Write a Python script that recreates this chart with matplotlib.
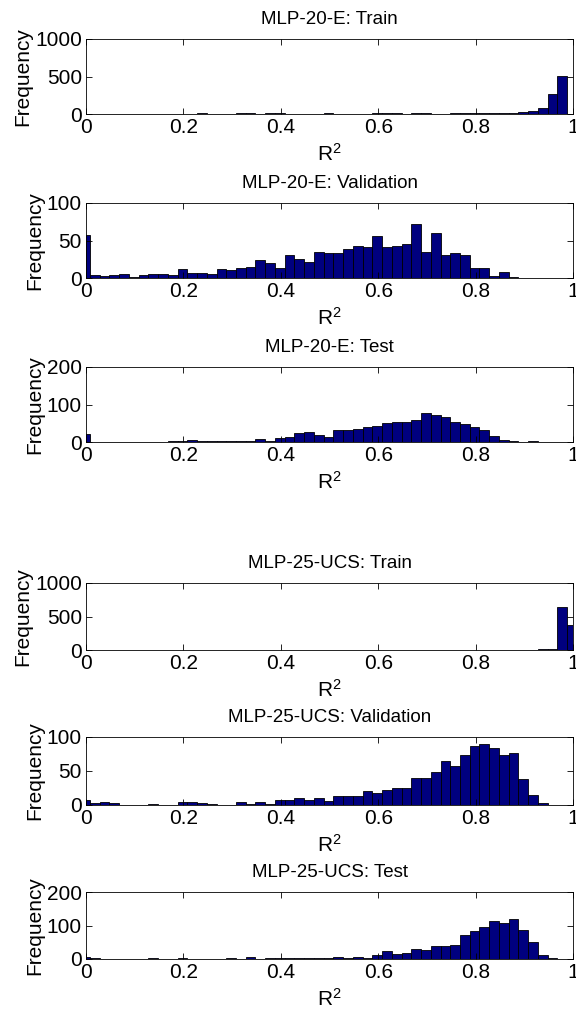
import matplotlib
matplotlib.use("Agg")
import matplotlib.pyplot as plt
import numpy as np

plt.rcParams['font.family'] = ['Liberation Sans', 'DejaVu Sans']
plt.rcParams['mathtext.fontset'] = 'custom'
plt.rcParams['mathtext.rm'] = 'Liberation Sans'
plt.rcParams['mathtext.it'] = 'Liberation Sans'

# Histogram counts: first entry = partial bin [0, BIN_START], then 50 bins of BIN_WIDTH
BIN_START = 0.008
BIN_WIDTH = 0.02

titles = ["MLP-20-E: Train", "MLP-20-E: Validation", "MLP-20-E: Test",
          "MLP-25-UCS: Train", "MLP-25-UCS: Validation", "MLP-25-UCS: Test"]

ymax_list = [1000, 100, 200, 1000, 100, 200]
yticks_list = [[0, 500, 1000], [0, 50, 100], [0, 100, 200],
               [0, 500, 1000], [0, 50, 100], [0, 100, 200]]

xticks = [0, 0.2, 0.4, 0.6, 0.8, 1.0]
xticklabels = ["0", "0.2", "0.4", "0.6", "0.8", "1"]

counts_e_train = [0,
    0, 0, 0, 0, 0, 0, 0, 0, 0, 0,
    0, 12, 0, 0, 0, 12, 12, 0, 12, 12,
    0, 0, 0, 0, 12, 0, 0, 0, 0, 12,
    12, 12, 0, 12, 12, 0, 0, 12, 12, 12,
    12, 12, 12, 20, 27, 36, 80, 270, 510, 0]
counts_e_val = [57,
    4, 3, 4, 5, 1, 4, 5, 5, 4, 12,
    7, 7, 5, 12, 11, 14, 15, 24, 20, 13,
    31, 25, 21, 35, 34, 34, 39, 43, 42, 56,
    42, 43, 46, 72, 35, 60, 31, 33, 31, 14,
    14, 3, 8, 1, 0, 0, 0, 0, 0, 0]
counts_e_test = [21,
    1, 1, 1, 1, 1, 1, 1, 1, 4, 4,
    6, 2, 3, 3, 3, 3, 4, 9, 4, 10,
    14, 23, 26, 19, 14, 31, 31, 35, 40, 44,
    50, 53, 53, 58, 77, 71, 66, 53, 47, 41,
    31, 15, 6, 3, 0, 2, 0, 0, 0, 0]
counts_u_train = [0,
    0, 0, 0, 0, 0, 0, 0, 0, 0, 0,
    0, 0, 0, 0, 0, 0, 0, 0, 0, 0,
    0, 0, 0, 0, 0, 0, 0, 0, 0, 0,
    0, 0, 0, 0, 0, 0, 0, 0, 0, 0,
    0, 0, 0, 0, 0, 0, 8, 8, 640, 370]
counts_u_val = [7,
    3, 5, 3, 0, 0, 0, 1, 0, 0, 4,
    4, 3, 2, 0, 0, 4, 1, 4, 2, 8,
    7, 10, 8, 10, 6, 13, 13, 13, 20, 17,
    22, 25, 25, 39, 40, 49, 64, 58, 74, 87,
    90, 84, 74, 77, 38, 15, 3, 0, 0, 0]
counts_u_test = [5,
    3, 0, 0, 0, 0, 0, 2, 0, 0, 2,
    0, 0, 0, 0, 2, 0, 5, 0, 2, 2,
    4, 2, 2, 4, 4, 7, 4, 6, 4, 11,
    24, 14, 19, 30, 27, 38, 38, 41, 71, 85,
    95, 113, 107, 118, 87, 50, 11, 3, 0, 0]

all_counts = [counts_e_train, counts_e_val, counts_e_test,
              counts_u_train, counts_u_val, counts_u_test]

# layout (pixel rows from top for axes top/bottom)
W, H = 576, 1015
ax_px = [(39, 114), (203, 278), (367, 442), (583, 650), (737, 805), (892, 959)]
left_px, right_px = 86, 573

fig = plt.figure(figsize=(W / 100, H / 100), dpi=100)

navy = '#00007f'
n_bins = len(counts_e_train) - 1
edges = np.concatenate([[0.0], BIN_START + BIN_WIDTH * np.arange(n_bins + 1)])

for i, counts in enumerate(all_counts):
    top, bot = ax_px[i]
    ax = fig.add_axes([left_px / W, 1 - bot / H, (right_px - left_px) / W, (bot - top) / H])
    lefts = edges[:-1]
    widths = np.diff(edges)
    c = np.array(counts, dtype=float)
    mask = c > 0
    ax.bar(lefts[mask], c[mask], width=widths[mask], align='edge',
           color=navy, edgecolor='black', linewidth=0.6)
    ax.set_xlim(0, 1)
    ax.set_ylim(0, ymax_list[i])
    ax.set_xticks(xticks)
    ax.set_xticklabels(xticklabels)
    ax.set_yticks(yticks_list[i])
    ax.tick_params(direction='in', top=True, right=True, length=4, width=0.6,
                   labelsize=15, pad=3)
    for s in ax.spines.values():
        s.set_linewidth(0.6)
    ax.set_title(titles[i], fontsize=13.5, pad=11)
    ax.set_xlabel('R$^2$', fontsize=15, labelpad=4)
    ax.set_ylabel('Frequency', fontsize=15, labelpad=2)

fig.savefig('out.png', dpi=100)
